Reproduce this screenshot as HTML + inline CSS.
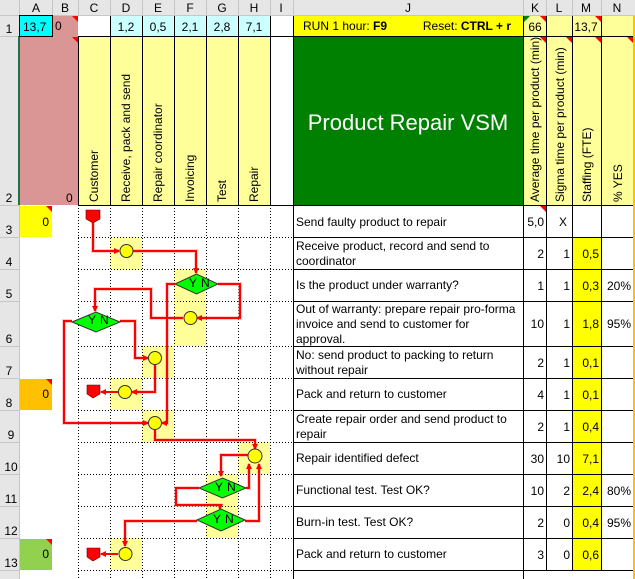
<!DOCTYPE html>
<html><head><meta charset="utf-8"><style>
html,body{margin:0;padding:0;background:#fff}
svg{display:block}
text{font-family:"Liberation Sans",Arial,sans-serif;font-size:12px;fill:#000}
.h{font-size:12px;fill:#222}
</style></head><body>
<svg width="635" height="579" viewBox="0 0 635 579" xmlns="http://www.w3.org/2000/svg">
<rect x="0" y="0" width="635" height="15" fill="#e6e6e6"/>
<rect x="0" y="0" width="19" height="579" fill="#e6e6e6"/>
<g stroke="#c6c6c6" stroke-width="1">
<line x1="0" y1="15.5" x2="635" y2="15.5"/>
<line x1="19.5" y1="0" x2="19.5" y2="579"/>
<line x1="52.5" y1="0" x2="52.5" y2="15"/><line x1="78.5" y1="0" x2="78.5" y2="15"/>
<line x1="110.5" y1="0" x2="110.5" y2="15"/><line x1="142.5" y1="0" x2="142.5" y2="15"/>
<line x1="174.5" y1="0" x2="174.5" y2="15"/><line x1="206.5" y1="0" x2="206.5" y2="15"/>
<line x1="238.5" y1="0" x2="238.5" y2="15"/><line x1="270.5" y1="0" x2="270.5" y2="15"/>
<line x1="293.5" y1="0" x2="293.5" y2="15"/><line x1="523.5" y1="0" x2="523.5" y2="15"/>
<line x1="546.5" y1="0" x2="546.5" y2="15"/><line x1="572.5" y1="0" x2="572.5" y2="15"/>
<line x1="601.5" y1="0" x2="601.5" y2="15"/>
<line x1="0" y1="36.5" x2="19" y2="36.5"/><line x1="0" y1="205.5" x2="19" y2="205.5"/>
<line x1="0" y1="237.5" x2="19" y2="237.5"/><line x1="0" y1="269.5" x2="19" y2="269.5"/>
<line x1="0" y1="301.5" x2="19" y2="301.5"/><line x1="0" y1="346.5" x2="19" y2="346.5"/>
<line x1="0" y1="378.5" x2="19" y2="378.5"/><line x1="0" y1="410.5" x2="19" y2="410.5"/>
<line x1="0" y1="442.5" x2="19" y2="442.5"/><line x1="0" y1="474.5" x2="19" y2="474.5"/>
<line x1="0" y1="506.5" x2="19" y2="506.5"/><line x1="0" y1="538.5" x2="19" y2="538.5"/>
<line x1="0" y1="570.5" x2="19" y2="570.5"/>
</g>
<g class="h" text-anchor="middle">
<text x="36" y="12">A</text><text x="65" y="12">B</text><text x="94" y="12">C</text><text x="126" y="12">D</text>
<text x="158" y="12">E</text><text x="190" y="12">F</text><text x="222" y="12">G</text><text x="254" y="12">H</text>
<text x="281" y="12">I</text><text x="408" y="12">J</text><text x="535" y="12">K</text><text x="559" y="12">L</text>
<text x="586" y="12">M</text><text x="617" y="12">N</text>
<text x="9" y="33">1</text><text x="9" y="202">2</text><text x="9" y="234">3</text><text x="9" y="266">4</text>
<text x="9" y="298">5</text><text x="9" y="343">6</text><text x="9" y="375">7</text><text x="9" y="407">8</text>
<text x="11" y="439">9</text><text x="11" y="471">10</text><text x="11" y="503">11</text><text x="11" y="535">12</text>
<text x="11" y="567">13</text>
</g>
<line x1="19" y1="36" x2="19" y2="205" stroke="#217346" stroke-width="2"/>

<rect x="20" y="16" width="32" height="20" fill="#00ffff"/>
<rect x="52" y="16" width="26" height="20" fill="#da9694"/>
<rect x="20" y="36" width="58" height="169" fill="#da9694"/>
<rect x="110" y="16" width="160" height="20" fill="#ccffff"/>
<rect x="293" y="16" width="230" height="20" fill="#ffff00"/>
<rect x="523" y="16" width="110" height="20" fill="#ffff99"/>
<rect x="78" y="36" width="192" height="169" fill="#ffff99"/>
<rect x="293" y="36" width="230" height="169" fill="#008000"/>
<rect x="523" y="36" width="110" height="169" fill="#ffff99"/>
<rect x="633" y="16" width="2" height="563" fill="#ffc000"/>

<rect x="20" y="206" width="32" height="31" fill="#ffff00"/>
<rect x="20" y="379" width="32" height="31" fill="#ffc000"/>
<rect x="20" y="539" width="32" height="31" fill="#92d050"/>
<rect x="572" y="237" width="29" height="333" fill="#ffff00"/>

<g fill="#ffff99">
<rect x="110" y="237" width="32" height="32"/>
<rect x="174" y="269" width="32" height="77"/>
<rect x="142" y="346" width="32" height="32"/>
<rect x="110" y="378" width="32" height="32"/>
<rect x="142" y="410" width="32" height="32"/>
<rect x="238" y="442" width="32" height="32"/>
<rect x="206" y="474" width="32" height="64"/>
<rect x="110" y="538" width="32" height="32"/>
</g>

<g stroke="#000" stroke-width="1" stroke-dasharray="1,2">
<line x1="78" y1="237.5" x2="293" y2="237.5"/><line x1="78" y1="269.5" x2="293" y2="269.5"/>
<line x1="78" y1="301.5" x2="293" y2="301.5"/><line x1="78" y1="346.5" x2="293" y2="346.5"/>
<line x1="78" y1="378.5" x2="293" y2="378.5"/><line x1="78" y1="410.5" x2="293" y2="410.5"/>
<line x1="78" y1="442.5" x2="293" y2="442.5"/><line x1="78" y1="474.5" x2="293" y2="474.5"/>
<line x1="78" y1="506.5" x2="293" y2="506.5"/><line x1="78" y1="538.5" x2="293" y2="538.5"/>
<line x1="78" y1="570.5" x2="293" y2="570.5"/>
<line x1="78.5" y1="205" x2="78.5" y2="579"/><line x1="110.5" y1="205" x2="110.5" y2="579"/>
<line x1="142.5" y1="205" x2="142.5" y2="579"/><line x1="174.5" y1="205" x2="174.5" y2="579"/>
<line x1="206.5" y1="205" x2="206.5" y2="579"/><line x1="238.5" y1="205" x2="238.5" y2="579"/>
<line x1="270.5" y1="205" x2="270.5" y2="579"/>
</g>

<g stroke="#000" stroke-width="1" fill="none">
<rect x="19.5" y="15.5" width="33" height="21"/>
<line x1="78" y1="36.5" x2="633" y2="36.5"/>
<line x1="78" y1="205.5" x2="633" y2="205.5"/>
<line x1="78.5" y1="36" x2="78.5" y2="205"/><line x1="110.5" y1="16" x2="110.5" y2="205"/>
<line x1="142.5" y1="16" x2="142.5" y2="205"/><line x1="174.5" y1="16" x2="174.5" y2="205"/>
<line x1="206.5" y1="16" x2="206.5" y2="205"/><line x1="238.5" y1="16" x2="238.5" y2="205"/>
<line x1="270.5" y1="16" x2="270.5" y2="205"/><line x1="293.5" y1="16" x2="293.5" y2="579"/>
<line x1="523.5" y1="16" x2="523.5" y2="579"/><line x1="546.5" y1="16" x2="546.5" y2="570"/>
<line x1="572.5" y1="16" x2="572.5" y2="570"/><line x1="601.5" y1="16" x2="601.5" y2="570"/>
<line x1="293" y1="237.5" x2="633" y2="237.5"/><line x1="293" y1="269.5" x2="633" y2="269.5"/>
<line x1="293" y1="301.5" x2="633" y2="301.5"/><line x1="293" y1="346.5" x2="633" y2="346.5"/>
<line x1="293" y1="378.5" x2="633" y2="378.5"/><line x1="293" y1="410.5" x2="633" y2="410.5"/>
<line x1="293" y1="442.5" x2="633" y2="442.5"/><line x1="293" y1="474.5" x2="633" y2="474.5"/>
<line x1="293" y1="506.5" x2="633" y2="506.5"/><line x1="293" y1="538.5" x2="633" y2="538.5"/>
<line x1="293" y1="570.5" x2="633" y2="570.5"/>
</g>
<g fill="#ff0000">
<polygon points="72,16 78,16 78,22"/><polygon points="72,37 78,37 78,43"/>
<polygon points="46,206 52,206 52,212"/><polygon points="46,379 52,379 52,385"/><polygon points="46,539 52,539 52,545"/>
<polygon points="540,16 546,16 546,22"/><polygon points="595,16 601,16 601,22"/>
<polygon points="540,37 546,37 546,43"/><polygon points="566,37 572,37 572,43"/><polygon points="595,37 601,37 601,43"/><polygon points="627,37 633,37 633,43"/>
<polygon points="540,206 546,206 546,212"/>
</g>
<polygon points="524,16 530,16 524,22" fill="#008000"/>

<text x="23" y="31">13,7</text>
<text x="55" y="30">0</text>
<text x="66" y="202">0</text>
<g text-anchor="middle">
<text x="126" y="31">1,2</text><text x="158" y="31">0,5</text><text x="190" y="31">2,1</text><text x="222" y="31">2,8</text><text x="254" y="31">7,1</text>
<text x="535" y="31">66</text><text x="586" y="31">13,7</text>
</g>
<text x="303" y="30">RUN 1 hour: <tspan font-weight="bold">F9</tspan></text>
<text x="511" y="30" text-anchor="end">Reset: <tspan font-weight="bold">CTRL + r</tspan></text>
<text x="408" y="130" text-anchor="middle" style="font-size:22px;fill:#fff">Product Repair VSM</text>
<g>
<text transform="translate(98,202) rotate(-90)">Customer</text>
<text transform="translate(130,202) rotate(-90)">Receive, pack and send</text>
<text transform="translate(162,202) rotate(-90)">Repair coordinator</text>
<text transform="translate(194,202) rotate(-90)">Invoicing</text>
<text transform="translate(226,202) rotate(-90)">Test</text>
<text transform="translate(258,202) rotate(-90)">Repair</text>
<text transform="translate(539,202) rotate(-90)">Average time per product (min)</text>
<text transform="translate(564,202) rotate(-90)">Sigma time per product (min)</text>
<text transform="translate(591,202) rotate(-90)">Staffing (FTE)</text>
<text transform="translate(622,202) rotate(-90)">% YES</text>
</g>
<g text-anchor="end">
<text x="49" y="226">0</text><text x="49" y="398">0</text><text x="49" y="558">0</text>
</g>

<g>
<text x="296" y="226">Send faulty product to repair</text>
<text x="296" y="250">Receive product, record and send to</text><text x="296" y="265">coordinator</text>
<text x="296" y="289">Is the product under warranty?</text>
<text x="296" y="313">Out of warranty: prepare repair pro-forma</text><text x="296" y="328">invoice and send to customer for</text><text x="296" y="343">approval.</text>
<text x="296" y="359">No: send product to packing to return</text><text x="296" y="374">without repair</text>
<text x="296" y="398">Pack and return to customer</text>
<text x="296" y="423">Create repair order and send product to</text><text x="296" y="438">repair</text>
<text x="296" y="462">Repair identified defect</text>
<text x="296" y="494">Functional test. Test OK?</text>
<text x="296" y="526">Burn-in test. Test OK?</text>
<text x="296" y="558">Pack and return to customer</text>
</g>
<g text-anchor="end">
<text x="544" y="226">5,0</text><text x="567" y="226">X</text>
<text x="544" y="258">2</text><text x="570" y="258">1</text><text x="599" y="258">0,5</text>
<text x="544" y="290">1</text><text x="570" y="290">1</text><text x="599" y="290">0,3</text><text x="631" y="290">20%</text>
<text x="544" y="328">10</text><text x="570" y="328">1</text><text x="599" y="328">1,8</text><text x="631" y="328">95%</text>
<text x="544" y="367">2</text><text x="570" y="367">1</text><text x="599" y="367">0,1</text>
<text x="544" y="399">4</text><text x="570" y="399">1</text><text x="599" y="399">0,1</text>
<text x="544" y="431">2</text><text x="570" y="431">1</text><text x="599" y="431">0,4</text>
<text x="544" y="463">30</text><text x="570" y="463">10</text><text x="599" y="463">7,1</text>
<text x="544" y="495">10</text><text x="570" y="495">2</text><text x="599" y="495">2,4</text><text x="631" y="495">80%</text>
<text x="544" y="527">2</text><text x="570" y="527">0</text><text x="599" y="527">0,4</text><text x="631" y="527">95%</text>
<text x="544" y="559">3</text><text x="570" y="559">0</text><text x="599" y="559">0,6</text>
</g>

<defs><marker id="a" markerWidth="6" markerHeight="6" refX="5" refY="3" orient="auto" markerUnits="userSpaceOnUse"><path d="M0,0 L6,3 L0,6 z" fill="#ff0000"/></marker></defs>
<g stroke="#ff9999" stroke-width="4" fill="none" opacity="0.5">
<path d="M93,223 V251 H119"/><path d="M133,251 H196 V273"/>
<path d="M218,284 H240 V318 H197"/><path d="M183,318 H151 V289 H95 V311"/>
<path d="M120,321 H135 V358 H148"/><path d="M155,365 V392 H132"/>
<path d="M72,321 H64 V423 H148"/><path d="M175,284 H167 V423 H162"/>
<path d="M155,430 V440 H255 V449"/><path d="M248,455 H221 V476"/>
<path d="M246,488 H249 V464"/><path d="M199,488 H176 V505 H220 V509"/>
<path d="M245,521 H259 V464"/><path d="M197,521 H125 V546"/>
</g>
<g stroke="#ff0000" stroke-width="2" fill="none" marker-end="url(#a)">
<path d="M93,223 V251 H119"/><path d="M133,251 H196 V273"/>
<path d="M218,284 H240 V318 H197"/><path d="M183,318 H151 V289 H95 V311"/>
<path d="M120,321 H135 V358 H148"/><path d="M155,365 V392 H132"/>
<path d="M118,392 H101"/>
<path d="M72,321 H64 V423 H148"/><path d="M175,284 H167 V423 H162"/>
<path d="M155,430 V440 H255 V449"/><path d="M248,455 H221 V476"/>
<path d="M246,488 H249 V464"/><path d="M199,488 H176 V505 H220 V509"/>
<path d="M245,521 H259 V464"/><path d="M197,521 H125 V546"/>
<path d="M118,554 H101"/>
</g>
<g fill="#ff0000" stroke="#600" stroke-width="0.6">
<polygon points="86,210 100,210 100,219 93,223 86,219"/>
<polygon points="87,385 100,385 100,394 93,398 87,394"/>
<polygon points="87,548 100,548 100,557 93,561 87,557"/>
</g>
<g fill="#ffff00" stroke="#333" stroke-width="1">
<circle cx="126.5" cy="251" r="6.5"/><circle cx="190.5" cy="318" r="6.5"/>
<circle cx="155" cy="358" r="6.5"/><circle cx="125" cy="392" r="6.5"/>
<circle cx="155" cy="423" r="6.5"/><circle cx="255" cy="456" r="7"/>
<circle cx="125.5" cy="554" r="6.5"/>
</g>
<g fill="#00ff00" stroke="#333" stroke-width="1">
<polygon points="175,284 196.5,274 218,284 196.5,294"/>
<polygon points="72,322 96,312 120,322 96,332"/>
<polygon points="199,488 222.5,478 246,488 222.5,498"/>
<polygon points="197,520 221,509 245,520 221,531"/>
</g>
<g style="font-size:6px">
<text x="189" y="287">Y</text><text x="201" y="287">N</text>
<text x="88" y="324">Y</text><text x="100" y="324">N</text>
<text x="215" y="491">Y</text><text x="227" y="491">N</text>
<text x="213" y="523">Y</text><text x="225" y="523">N</text>
</g>
</svg>
</body></html>
